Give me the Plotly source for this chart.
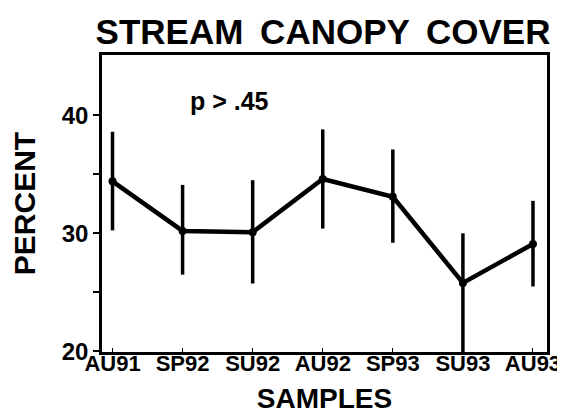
import plotly.graph_objects as go

samples = ["AU91", "SP92", "SU92", "AU92", "SP93", "SU93", "AU93"]
percent = [34.4, 30.2, 30.1, 34.6, 33.1, 25.8, 29.1]
err_plus = [4.2, 3.9, 4.4, 4.2, 4.0, 4.2, 3.65]
err_minus = [4.15, 3.7, 4.35, 4.2, 3.9, 6.5, 3.6]
y_tickvals = [20, 25, 30, 35, 40]
y_ticktext = ["20", "", "30", "", "40"]

FONT = "Liberation Sans, Arial, Helvetica, sans-serif"
x_idx = list(range(len(samples)))

fig = go.Figure()
fig.add_trace(go.Scatter(
    x=x_idx, y=percent, mode="lines+markers",
    line=dict(color="black", width=4.5),
    marker=dict(color="black", size=8),
    error_y=dict(type="data", symmetric=False, array=err_plus, arrayminus=err_minus,
                 thickness=3.5, width=0, color="black"),
    showlegend=False, cliponaxis=True,
))

fig.add_annotation(x=1.67, y=41.2, xref="x", yref="y", text="p > .45", showarrow=False,
                   font=dict(family=FONT, size=25, color="black", weight="bold"))

fig.update_layout(
    width=565, height=414,
    margin=dict(l=94, r=13, t=47, b=67),
    paper_bgcolor="white", plot_bgcolor="white",
    title=dict(text="STREAM \u2009CANOPY \u2009COVER", x=315/565, xanchor="center",
               y=1 - 24/414, yanchor="middle", xref="container", yref="container",
               font=dict(family=FONT, size=35, color="black", weight="bold")),
)
fig.update_xaxes(
    range=[-0.15, 6.2], tickvals=x_idx, ticktext=samples,
    showline=True, linewidth=2.5, linecolor="black", mirror=True,
    ticks="inside", ticklen=4, tickwidth=1, tickcolor="black",
    showgrid=False, zeroline=False, ticklabelstandoff=-10,
    tickfont=dict(family=FONT, size=22, color="black", weight="bold"),
    title=dict(text="SAMPLES", standoff=14,
               font=dict(family=FONT, size=28, color="black", weight="bold")),
)
fig.update_yaxes(
    range=[19.95, 45.1], tickvals=y_tickvals, ticktext=y_ticktext,
    showline=True, linewidth=2.5, linecolor="black", mirror=True,
    ticks="outside", ticklen=6, tickwidth=2, tickcolor="black",
    showgrid=False, zeroline=False,
    tickfont=dict(family=FONT, size=24, color="black", weight="bold"),
    title=dict(text="PERCENT", standoff=20,
               font=dict(family=FONT, size=30, color="black", weight="bold")),
)

fig.write_html("out.html")
